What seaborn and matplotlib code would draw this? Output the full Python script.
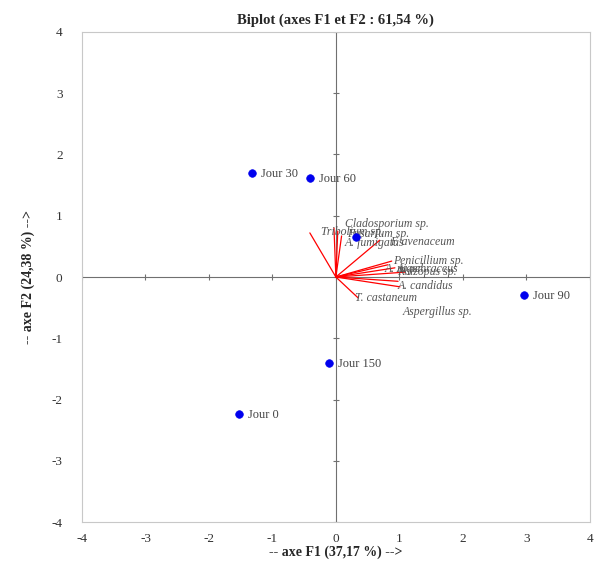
import numpy as np
import pandas as pd
import matplotlib
matplotlib.use("Agg")
import matplotlib.pyplot as plt
import seaborn as sns

# Observations (factor scores on F1 / F2)
obs_names = ["Jour 0", "Jour 30", "Jour 60", "Jour 90", "", "Jour 150"]
obs_f1 = [-1.53, -1.32, -0.41, 2.96, 0.31, -0.11]
obs_f2 = [-2.24, 1.70, 1.62, -0.29, 0.65, -1.40]

# Variables (loadings on F1 / F2)
var_names = ["Tribolium sp.", "Cladosporium sp.", "Fusarium sp.", "A. fumigatus",
             "F. avenaceum", "Penicillium sp.", "A. niger", "Rhizopus sp.",
             "A. ochraceus", "A. candidus", "T. castaneum", "Aspergillus sp."]
var_f1 = [-0.41, -0.03, 0.03, 0.09, 0.69, 0.88, 0.82, 0.93, 1.09, 0.98, 0.35, 1.01]
var_f2 = [0.72, 0.80, 0.75, 0.67, 0.60, 0.26, 0.20, 0.15, 0.08, -0.07, -0.34, -0.16]
# label offsets in pixels from the tip of each vector
lab_dx = [11, 11, 9, 3, 10, 1, -3, 2, -8, 0, -3, 3]
lab_dy = [1, 4, -3, -7, -2, 0, -4, -4, 3, -5, 0, -25]

ticks = [-4, -3, -2, -1, 0, 1, 2, 3, 4]

obs = pd.DataFrame({"F1": obs_f1, "F2": obs_f2, "name": obs_names})

sns.set_style("white")
plt.rcParams["font.family"] = ["Liberation Serif", "DejaVu Serif"]
plt.rcParams["axes.unicode_minus"] = False

fig = plt.figure(figsize=(6.03, 5.70), dpi=100)
ax = fig.add_axes([0.136, 0.084, 0.842, 0.860])

# central axes
ax.axhline(0, color="#707070", lw=0.8, zorder=1)
ax.axvline(0, color="#707070", lw=0.8, zorder=1)
ax.plot(ticks, [0] * len(ticks), ls="none", marker="|", ms=4, color="#707070", mew=0.8)
ax.plot([0] * len(ticks), ticks, ls="none", marker="_", ms=4, color="#707070", mew=0.8)

# variable vectors
for name, x, y, dx, dy in zip(var_names, var_f1, var_f2, lab_dx, lab_dy):
    ax.plot([0, x], [0, y], color="red", lw=0.9, zorder=2)
    ax.annotate(name, (x, y), xytext=(dx, dy), textcoords="offset pixels",
                ha="left", va="center", fontsize=8.5, style="italic",
                color="#555555", zorder=3)

# observations
sns.scatterplot(data=obs, x="F1", y="F2", color="#0000ee", s=30,
                edgecolor="#0000ee", linewidth=0.5, ax=ax, zorder=4)
for _, r in obs.iterrows():
    ax.annotate(r["name"], (r["F1"], r["F2"]), xytext=(9, -1),
                textcoords="offset pixels", ha="left", va="center",
                fontsize=9, color="#444444")

ax.set_xlim(-4, 4)
ax.set_ylim(-4, 4)
ax.set_xticks(ticks)
ax.set_yticks(ticks)
ax.tick_params(axis="x", length=0, labelsize=9.5, colors="#333333", pad=8)
ax.tick_params(axis="y", length=0, labelsize=9.5, colors="#333333", pad=14)
for s in ax.spines.values():
    s.set_color("#c8c8c8")
    s.set_linewidth(0.8)

ax.set_title("Biplot (axes F1 et F2 : 61,54 %)", fontsize=10.5,
             fontweight="bold", pad=6)
ax.set_xlabel("-- axe F1 (37,17 %) -->", fontsize=10, fontweight="bold", labelpad=0)
ax.set_ylabel("-- axe F2 (24,38 %) -->", fontsize=10, fontweight="bold", labelpad=12)

fig.savefig("out.png", dpi=100)
